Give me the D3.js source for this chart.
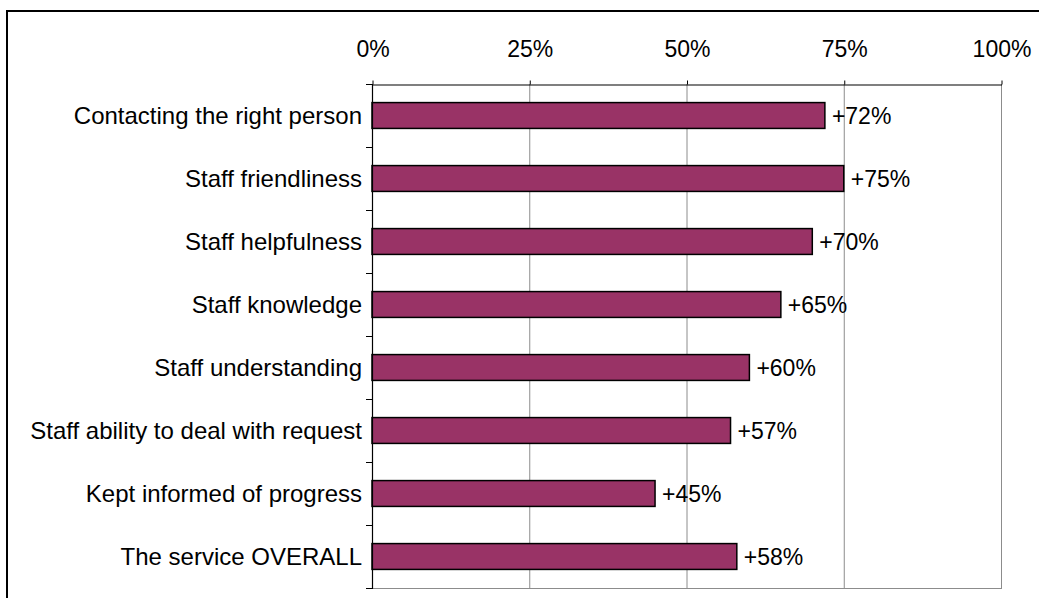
<!DOCTYPE html>
<html>
<head>
<meta charset="utf-8">
<script src="https://cdn.jsdelivr.net/npm/d3@7"></script>
<style>
  html, body { margin: 0; padding: 0; background: #fff; overflow: hidden; }
  svg { display: block; font-family: "Liberation Sans", Arial, sans-serif; }
</style>
</head>
<body>
<svg id="chart" width="1039" height="598"></svg>
<script>
// Satisfaction scores by aspect of service
const categories = [
  "Contacting the right person",
  "Staff friendliness",
  "Staff helpfulness",
  "Staff knowledge",
  "Staff understanding",
  "Staff ability to deal with request",
  "Kept informed of progress",
  "The service OVERALL"
];
const scores = [72, 75, 70, 65, 60, 57, 45, 58];
const tickValues = [0, 25, 50, 75, 100];

const svg = d3.select("#chart");
const plot = { left: 372, right: 1001, top: 84, bottom: 588 };
const labelSize = 24;
const valueSize = 23;

// outer frame of the chart object
svg.append("rect")
  .attr("x", 7).attr("y", 11)
  .attr("width", 1100).attr("height", 700)
  .attr("fill", "none").attr("stroke", "#000").attr("stroke-width", 2);

const x = d3.scaleLinear().domain([0, 100]).range([plot.left, plot.right]);
const y = d3.scaleBand().domain(categories)
  .range([plot.top, plot.bottom])
  .paddingInner(0.59).paddingOuter(0.295);

// vertical gridlines
svg.append("g").selectAll("line")
  .data(tickValues.filter(v => v > 0))
  .join("line")
  .attr("x1", d => x(d) + 0.5).attr("x2", d => x(d) + 0.5)
  .attr("y1", plot.top).attr("y2", plot.bottom)
  .attr("stroke", "#8c8c8c").attr("stroke-width", 1);

// bottom edge of plot area
svg.append("line")
  .attr("x1", plot.left).attr("x2", plot.right + 1)
  .attr("y1", plot.bottom + 0.5).attr("y2", plot.bottom + 0.5)
  .attr("stroke", "#8c8c8c").attr("stroke-width", 1);

// bars
svg.append("g").selectAll("rect")
  .data(categories)
  .join("rect")
  .attr("x", x(0))
  .attr("y", d => y(d))
  .attr("width", (d, i) => x(scores[i]) - x(0))
  .attr("height", y.bandwidth())
  .attr("fill", "#993366")
  .attr("stroke", "#000")
  .attr("stroke-width", 1.5);

// value labels
svg.append("g").selectAll("text")
  .data(categories)
  .join("text")
  .attr("x", (d, i) => x(scores[i]) + 7)
  .attr("y", d => y(d) + y.bandwidth() / 2)
  .attr("dy", "0.35em")
  .attr("font-size", valueSize)
  .attr("fill", "#000")
  .text((d, i) => "+" + scores[i] + "%");

// top axis
const xAxis = d3.axisTop(x)
  .tickValues(tickValues)
  .tickFormat(d => d + "%")
  .tickSizeInner(4).tickSizeOuter(0)
  .tickPadding(23.5);
const gx = svg.append("g")
  .attr("transform", `translate(0.5,${plot.top + 0.5})`)
  .call(xAxis);
gx.select(".domain").attr("stroke", "#000").attr("stroke-width", 1.2);
gx.selectAll(".tick line").attr("stroke", "#000");
gx.selectAll(".tick text")
  .attr("font-size", valueSize)
  .attr("font-family", "Liberation Sans, Arial, sans-serif")
  .attr("fill", "#000");

// left axis: line, boundary ticks between categories, and labels
const boundaries = d3.range(categories.length + 1)
  .map(i => plot.top + i * y.step());
const gy = svg.append("g");
gy.append("line")
  .attr("x1", plot.left + 0.5).attr("x2", plot.left + 0.5)
  .attr("y1", plot.top).attr("y2", plot.bottom + 1)
  .attr("stroke", "#000").attr("stroke-width", 1.2);
gy.selectAll("line.bt")
  .data(boundaries)
  .join("line")
  .attr("class", "bt")
  .attr("x1", plot.left - 6).attr("x2", plot.left)
  .attr("y1", d => Math.round(d) + 0.5).attr("y2", d => Math.round(d) + 0.5)
  .attr("stroke", "#000").attr("stroke-width", 1);
gy.selectAll("text")
  .data(categories)
  .join("text")
  .attr("x", plot.left - 10)
  .attr("y", d => y(d) + y.bandwidth() / 2)
  .attr("dy", "0.35em")
  .attr("text-anchor", "end")
  .attr("font-size", labelSize)
  .attr("fill", "#000")
  .text(d => d);
</script>
</body>
</html>
